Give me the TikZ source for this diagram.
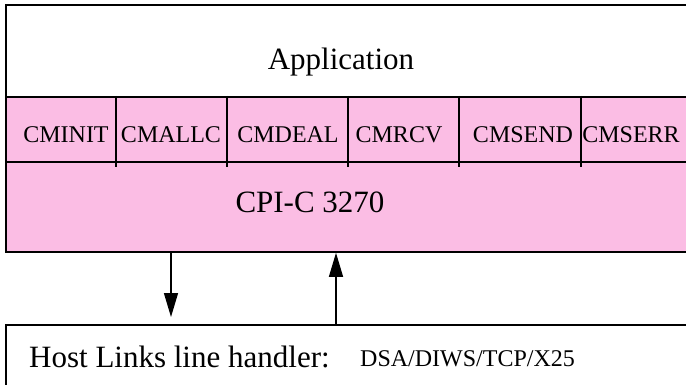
\documentclass[tikz,border=0pt]{standalone}
\usepackage{fontspec}
\setmainfont{Liberation Serif}
\usetikzlibrary{arrows.meta}
\definecolor{cpipink}{RGB}{251,189,228}

\begin{document}
\begin{tikzpicture}[x=1pt, y=-1pt,
  box/.style={draw, line width=1.8pt, anchor=north west, inner sep=0pt},
  callname/.style={anchor=base, inner sep=0pt, font=\fontsize{24}{28}\selectfont},
  bigtext/.style={anchor=base, inner sep=0pt, font=\fontsize{31}{36}\selectfont},
  flow/.style={line width=1.3pt, -{Triangle[length=24pt,width=14pt]}}]

\clip (0,0) rectangle (686,385);

% Application
\node[box, fill=white, minimum width=700pt, minimum height=92pt] (app) at (5,4) {};
\node[bigtext] (applbl) at (341,70) {Application};

% CPI-C 3270 et ses appels
\node[box, fill=cpipink, minimum width=700pt, minimum height=155pt] (cpi) at (5,96) {};
\draw[line width=1.2pt] (5,162) -- (705,162);
\foreach \x in {116,227,348,459,581}
  \draw[line width=1.2pt] (\x,96) -- (\x,167);
\foreach \x/\lbl in {66/CMINIT,171/CMALLC,288/CMDEAL,399/CMRCV,523/CMSEND,631/CMSERR}
  \node[callname] (\lbl) at (\x,143) {\lbl};
\node[bigtext] (cpilbl) at (310,213) {CPI-C 3270};

% Host Links
\node[box, fill=white, minimum width=700pt, minimum height=80pt] (host) at (5,324) {};
\node[bigtext, anchor=base west] (hostlbl) at (29,367) {Host Links line handler:};
\node[callname, anchor=base west] (proto) at (360,366) {DSA/DIWS/TCP/X25};

% setas
\coordinate (down) at (171,317);
\draw[flow] (cpi.south -| down) -- (down);
\coordinate (up) at (336,324);
\draw[flow] (host.north -| up) -- (cpi.south -| up);

\end{tikzpicture}
\end{document}
